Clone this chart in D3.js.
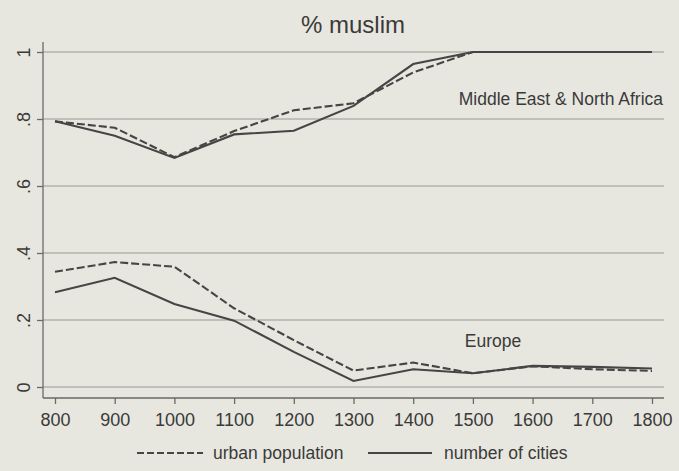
<!DOCTYPE html>
<html>
  <head>
    <meta charset="utf-8" />
    <script src="https://d3js.org/d3.v7.min.js"></script>
    <style>
      body { margin: 0; background: #e7e7df; }
      text { font-family: "Liberation Sans", Arial, sans-serif; fill: #3a3a3a; }
      .grid line { stroke: #b3b3ab; stroke-width: 1.4; }
      .axis path, .axis line { stroke: #6a6a66; stroke-width: 1.3; }
      .series { fill: none; stroke: #454545; stroke-width: 2.1; }
    </style>
  </head>
  <body>
    <div id="chart"></div>
    <script type="text/javascript">

      var w = 679, h = 471;

      var years = [800, 900, 1000, 1100, 1200, 1300, 1400, 1500, 1600, 1700, 1800];
      var yTicks = [0, 0.2, 0.4, 0.6, 0.8, 1];
      var yTickLabels = ["0", ".2", ".4", ".6", ".8", "1"];

      // Middle East & North Africa
      var menaUrban  = [0.793, 0.774, 0.686, 0.764, 0.826, 0.847, 0.939, 1, 1, 1, 1];
      var menaCities = [0.793, 0.750, 0.684, 0.754, 0.765, 0.839, 0.964, 1, 1, 1, 1];
      // Europe
      var euUrban  = [0.344, 0.373, 0.359, 0.235, 0.140, 0.049, 0.073, 0.041, 0.062, 0.053, 0.048];
      var euCities = [0.283, 0.326, 0.248, 0.198, 0.105, 0.018, 0.053, 0.041, 0.063, 0.060, 0.055];

      var x = d3.scaleLinear().domain([800, 1800]).range([55, 652]);
      var y = d3.scaleLinear().domain([0, 1]).range([387, 52]);

      var svg = d3.select("#chart").append("svg")
        .attr("width", w).attr("height", h);

      // gridlines
      svg.append("g").attr("class", "grid")
        .selectAll("line").data(yTicks).enter().append("line")
        .attr("x1", 43).attr("x2", 664)
        .attr("y1", function(d) { return y(d); })
        .attr("y2", function(d) { return y(d); });

      // y axis
      var yAxis = svg.append("g").attr("class", "axis")
        .attr("transform", "translate(43,0)")
        .call(d3.axisLeft(y).tickValues(yTicks).tickSize(6).tickSizeOuter(0)
          .tickFormat(function(d, i) { return yTickLabels[i]; }));
      yAxis.select(".domain").attr("d", "M0,42V398");
      yAxis.selectAll(".tick text")
        .attr("transform", "rotate(-90)")
        .attr("x", 0).attr("y", -13).attr("dy", 0)
        .style("text-anchor", "middle")
        .style("font-size", "18px")
        .style("fill", "#3a3a3a");

      // x axis
      var xAxis = svg.append("g").attr("class", "axis")
        .attr("transform", "translate(0,398)")
        .call(d3.axisBottom(x).tickValues(years).tickSize(6).tickSizeOuter(0)
          .tickFormat(d3.format("d")));
      xAxis.select(".domain").attr("d", "M43,0H664");
      xAxis.selectAll(".tick text")
        .attr("y", 28).attr("dy", 0)
        .style("font-size", "18px")
        .style("fill", "#3a3a3a");
      svg.selectAll(".axis").attr("font-family", null);

      var line = d3.line()
        .x(function(d, i) { return x(years[i]); })
        .y(function(d) { return y(d); });

      [menaUrban, euUrban].forEach(function(s) {
        svg.append("path").attr("class", "series")
          .attr("d", line(s)).attr("stroke-dasharray", "8,3");
      });
      [menaCities, euCities].forEach(function(s) {
        svg.append("path").attr("class", "series").attr("d", line(s));
      });

      // title and region labels
      svg.append("text").attr("x", 353).attr("y", 33)
        .attr("text-anchor", "middle").style("font-size", "24px")
        .text("% muslim");
      svg.append("text").attr("x", 663).attr("y", 105)
        .attr("text-anchor", "end").style("font-size", "17.5px")
        .text("Middle East & North Africa");
      svg.append("text").attr("x", 493).attr("y", 347)
        .attr("text-anchor", "middle").style("font-size", "17.5px")
        .text("Europe");

      // legend
      var legend = svg.append("g");
      legend.append("line").attr("class", "series")
        .attr("x1", 137).attr("x2", 203).attr("y1", 453).attr("y2", 453)
        .attr("stroke-dasharray", "7,3");
      legend.append("text").attr("x", 213).attr("y", 459)
        .style("font-size", "17.5px").text("urban population");
      legend.append("line").attr("class", "series")
        .attr("x1", 368).attr("x2", 432).attr("y1", 453).attr("y2", 453);
      legend.append("text").attr("x", 444).attr("y", 459)
        .style("font-size", "17.5px").text("number of cities");

    </script>
  </body>
</html>
